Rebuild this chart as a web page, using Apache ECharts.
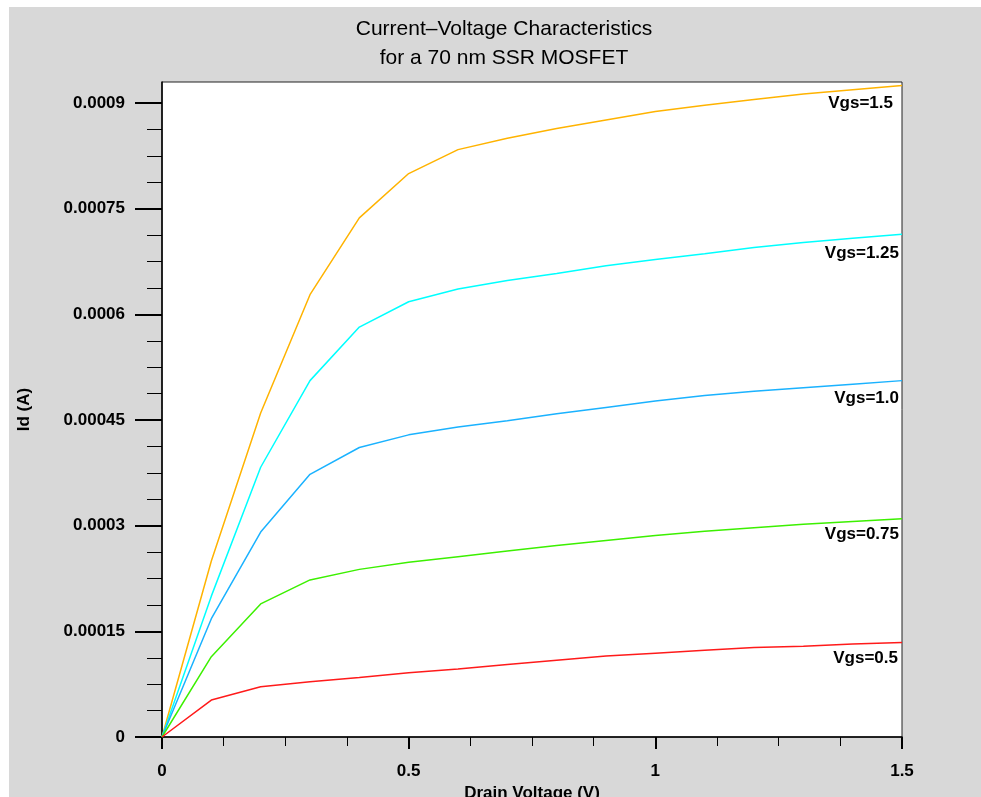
<!DOCTYPE html>
<html>
<head>
    <meta charset="utf-8">
    <title>MOSFET I-V</title>
    <script src="https://cdn.jsdelivr.net/npm/echarts@6.0.0/dist/echarts.min.js"></script>
    <style>
        body { margin: 0; background: #fff; }
        #main { position: absolute; left: 9px; top: 7px; width: 972px; height: 790px; background: #d8d8d8; }
    </style>
</head>
<body>
<div id="main"></div>
<script type="text/javascript">
    // drain voltage samples (V)
    var drainVoltage = [0, 0.1, 0.2, 0.3, 0.4, 0.5, 0.6, 0.7, 0.8, 0.9, 1.0, 1.1, 1.2, 1.3, 1.4, 1.5];

    // drain current (A), one curve per gate voltage
    var idVgs150 = [0, 0.000250, 0.000460, 0.000628, 0.000737, 0.000800, 0.000834, 0.000850, 0.000864, 0.000876, 0.000888, 0.000897, 0.000905, 0.000913, 0.000919, 0.000925];
    var idVgs125 = [0, 0.000200, 0.000383, 0.000506, 0.000582, 0.000618, 0.000636, 0.000648, 0.000658, 0.000669, 0.000678, 0.000686, 0.000695, 0.000702, 0.000708, 0.000714];
    var idVgs100 = [0, 0.000168, 0.000291, 0.000373, 0.000411, 0.000429, 0.000440, 0.000449, 0.000459, 0.000468, 0.000477, 0.000485, 0.000491, 0.000496, 0.000501, 0.000506];
    var idVgs075 = [0, 0.000114, 0.000189, 0.000223, 0.000238, 0.000248, 0.000256, 0.000264, 0.000272, 0.000279, 0.000286, 0.000292, 0.000297, 0.000302, 0.000306, 0.000310];
    var idVgs050 = [0, 0.0000524, 0.0000713, 0.0000784, 0.0000846, 0.0000911, 0.0000965, 0.000103, 0.000109, 0.000115, 0.000119, 0.000123, 0.000127, 0.000129, 0.000132, 0.000134];

    var curveNames = ['Vgs=1.5', 'Vgs=1.25', 'Vgs=1.0', 'Vgs=0.75', 'Vgs=0.5'];

    // axis ticks
    var yTickValues = [0, 0.00015, 0.0003, 0.00045, 0.0006, 0.00075, 0.0009];
    var yTickLabels = ['0', '0.00015', '0.0003', '0.00045', '0.0006', '0.00075', '0.0009'];
    var yMax = 0.00093;
    var xTickLabels = ['0', '0.5', '1', '1.5'];

    var yMinorTicks = [];
    for (var i = 0; i < yTickValues.length - 1; i++) {
        var step = (yTickValues[i + 1] - yTickValues[i]) / 4;
        for (var k = 1; k < 4; k++) yMinorTicks.push(yTickValues[i] + k * step);
    }

    function pairs(ys) {
        return drainVoltage.map(function (x, i) { return [x, ys[i]]; });
    }

    var font = 'Liberation Sans, Arial, sans-serif';
    var curves = [
        {name: curveNames[0], data: idVgs150, color: '#ffb300', offset: [-9, 18]},
        {name: curveNames[1], data: idVgs125, color: '#00ffff', offset: [-3, 19]},
        {name: curveNames[2], data: idVgs100, color: '#1ab2ff', offset: [-3, 18]},
        {name: curveNames[3], data: idVgs075, color: '#3cf000', offset: [-3, 16]},
        {name: curveNames[4], data: idVgs050, color: '#ff1a1a', offset: [-4, 16]}
    ];

    var myChart = echarts.init(document.getElementById('main'));

    var option = {
        animation: false,
        title: {
            text: 'Current\u2013Voltage Characteristics\nfor a 70 nm SSR MOSFET',
            left: 490,
            top: 3,
            textAlign: 'center',
            textStyle: {
                fontFamily: font,
                fontSize: 21,
                fontWeight: 'normal',
                color: '#000',
                lineHeight: 29
            }
        },
        grid: {
            left: 153,
            right: 79,
            top: 75,
            bottom: 60,
            outerBoundsMode: 'none',
            show: true,
            backgroundColor: '#fff',
            borderColor: '#222',
            borderWidth: 1
        },
        xAxis: {
            type: 'value',
            min: 0,
            max: 1.5,
            interval: 0.5,
            name: 'Drain Voltage (V)',
            nameLocation: 'middle',
            nameGap: 37,
            nameTextStyle: {fontFamily: font, fontSize: 17, fontWeight: 'bold', color: '#000'},
            axisLine: {lineStyle: {color: '#000', width: 1.5}},
            axisTick: {length: 12, lineStyle: {color: '#000', width: 2}},
            minorTick: {show: true, splitNumber: 4, length: 9, lineStyle: {color: '#000', width: 1}},
            splitLine: {show: false},
            axisLabel: {
                margin: 26,
                fontFamily: font, fontSize: 17, fontWeight: 'bold', color: '#000',
                formatter: function (v) {
                    var idx = Math.round(v / 0.5);
                    return xTickLabels[idx] !== undefined ? xTickLabels[idx] : String(v);
                }
            }
        },
        yAxis: [{
            type: 'value',
            min: 0,
            max: yMax,
            name: 'Id (A)',
            nameLocation: 'middle',
            nameGap: 129,
            nameTextStyle: {fontFamily: font, fontSize: 17, fontWeight: 'bold', color: '#000'},
            axisLine: {show: true, lineStyle: {color: '#000', width: 1.5}},
            axisTick: {show: true, length: 27, customValues: yTickValues, lineStyle: {color: '#000', width: 2}},
            splitLine: {show: false},
            axisLabel: {
                margin: 37,
                customValues: yTickValues,
                fontFamily: font, fontSize: 17, fontWeight: 'bold', color: '#000',
                formatter: function (v) {
                    var idx = yTickValues.indexOf(v);
                    return idx >= 0 ? yTickLabels[idx] : String(v);
                }
            }
        }, {
            type: 'value',
            min: 0,
            max: yMax,
            position: 'left',
            axisLine: {show: false},
            axisTick: {show: true, length: 15, customValues: yMinorTicks, lineStyle: {color: '#000', width: 1}},
            axisLabel: {show: false},
            splitLine: {show: false}
        }],
        series: curves.map(function (c) {
            return {
                name: c.name,
                type: 'line',
                yAxisIndex: 0,
                data: pairs(c.data),
                symbol: 'none',
                lineStyle: {color: c.color, width: 1.5},
                itemStyle: {color: c.color},
                markPoint: {
                    symbol: 'circle',
                    symbolSize: 0,
                    silent: true,
                    data: [{coord: [drainVoltage[drainVoltage.length - 1], c.data[c.data.length - 1]]}],
                    label: {
                        show: true,
                        position: 'inside',
                        align: 'right',
                        verticalAlign: 'middle',
                        offset: c.offset,
                        formatter: function (p) { return p.seriesName; },
                        fontFamily: font, fontSize: 17, fontWeight: 'bold', color: '#000'
                    }
                }
            };
        })
    };

    myChart.setOption(option);
</script>
</body>
</html>
